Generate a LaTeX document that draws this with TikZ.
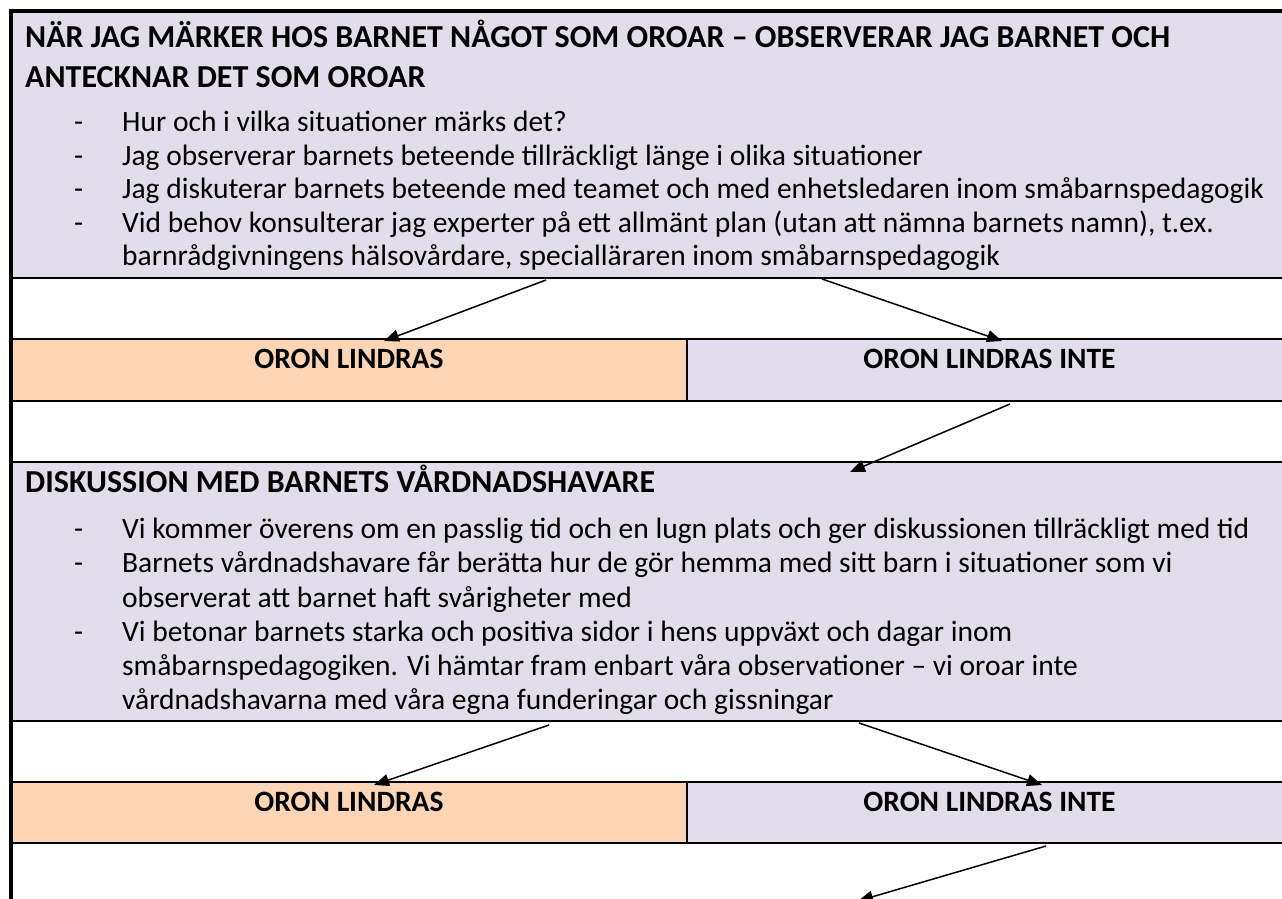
\documentclass[tikz,border=0pt]{standalone}
\usepackage{fontspec}
\setmainfont{Carlito}
\usetikzlibrary{arrows.meta}
\definecolor{lav}{HTML}{E2DDEA}
\definecolor{peach}{HTML}{FBD5B5}
\tikzset{
  cellbox/.style={draw=none, inner sep=0pt, anchor=north west},
  rule/.style={line width=2pt, black},
  thickrule/.style={line width=4pt, black},
  divider/.style={line width=1.5pt, black},
  head/.style={anchor=base west, inner sep=0pt, font=\bfseries\fontsize{32}{40}\selectfont},
  body/.style={anchor=base west, inner sep=0pt, font=\fontsize{29.5}{34}\selectfont},
  oron/.style={anchor=base, inner sep=0pt, font=\bfseries\fontsize{29.5}{34}\selectfont},
  flow/.style={line width=1.5pt, -{Triangle[length=15pt,width=12pt]}}
}
\begin{document}
\begin{tikzpicture}[x=1pt,y=-1pt]
\useasboundingbox (0,0) rectangle (1282,899);
\clip (0,0) rectangle (1282,899);
% cells
\node[cellbox, fill=lav, minimum width=1281pt, minimum height=267pt] (obs) at (11,11) {};
\node[cellbox, fill=peach, minimum width=676pt, minimum height=62pt] (l1) at (11,339) {};
\node[cellbox, fill=lav, minimum width=605pt, minimum height=62pt] (n1) at (687,339) {};
\node[cellbox, fill=lav, minimum width=1281pt, minimum height=259pt] (disk) at (11,462) {};
\node[cellbox, fill=peach, minimum width=676pt, minimum height=61pt] (l2) at (11,782) {};
\node[cellbox, fill=lav, minimum width=605pt, minimum height=61pt] (n2) at (687,782) {};
% table rules
\foreach \yy in {278,339,401,462,721,782,843} \draw[rule] (11,\yy) -- (1292,\yy);
\draw[divider] (687,339) -- (687,401);
\draw[divider] (687,782) -- (687,843);
\draw[thickrule] (9,11) -- (1292,11);
\draw[thickrule] (11,9) -- (11,899);
% box 1 text
\node[head] (h1a) at (25,48) {NÄR JAG MÄRKER HOS BARNET NÅGOT SOM OROAR – OBSERVERAR JAG BARNET OCH};
\node[head] (h1b) at (25,88) {ANTECKNAR DET SOM OROAR};
\node[body] (d11) at (74,131) {-};
\node[body] (t11) at (122,131) {Hur och i vilka situationer märks det?};
\node[body] (d12) at (74,165) {-};
\node[body] (t12) at (122,165) {Jag observerar barnets beteende tillräckligt länge i olika situationer};
\node[body] (d13) at (74,198) {-};
\node[body] (t13) at (122,198) {Jag diskuterar barnets beteende med teamet och med enhetsledaren inom småbarnspedagogik};
\node[body] (d14) at (74,232) {-};
\node[body] (t14) at (122,232) {Vid behov konsulterar jag experter på ett allmänt plan (utan att nämna barnets namn), t.ex.};
\node[body] (t15) at (122,265) {barnrådgivningens hälsovårdare, specialläraren inom småbarnspedagogik};
% row 1
\node[oron] (o1) at (349,368) {ORON LINDRAS};
\node[oron] (o2) at (989.5,368) {ORON LINDRAS INTE};
% box 2 text
\node[head] (h2) at (25,492) {DISKUSSION MED BARNETS VÅRDNADSHAVARE};
\node[body] (d21) at (74,538) {-};
\node[body] (t21) at (122,538) {Vi kommer överens om en passlig tid och en lugn plats och ger diskussionen tillräckligt med tid};
\node[body] (d22) at (74,572) {-};
\node[body] (t22) at (122,572) {Barnets vårdnadshavare får berätta hur de gör hemma med sitt barn i situationer som vi};
\node[body] (t23) at (122,607) {observerat att barnet haft svårigheter med};
\node[body] (d24) at (74,641) {-};
\node[body] (t24) at (122,641) {Vi betonar barnets starka och positiva sidor i hens uppväxt och dagar inom};
\node[body] (t25) at (122,675) {småbarnspedagogiken. Vi hämtar fram enbart våra observationer – vi oroar inte};
\node[body] (t26) at (122,709) {vårdnadshavarna med våra egna funderingar och gissningar};
% row 2
\node[oron] (o3) at (349,811) {ORON LINDRAS};
\node[oron] (o4) at (989.5,811) {ORON LINDRAS INTE};
% arrow ends
\coordinate (a1s) at (546,280);
\coordinate (a1e) at (384,341);
\coordinate (a2s) at (822,279);
\coordinate (a2e) at (1002,341);
\coordinate (a3s) at (1010,404);
\coordinate (a3e) at (850,472);
\coordinate (a4s) at (549,725);
\coordinate (a4e) at (374,785);
\coordinate (a5s) at (859,723);
\coordinate (a5e) at (1042,785);
\coordinate (a6s) at (1046,846);
\coordinate (a6e) at (858,901);
\draw[flow] (a1s) -- (a1e);
\draw[flow] (a2s) -- (a2e);
\draw[flow] (a3s) -- (a3e);
\draw[flow] (a4s) -- (a4e);
\draw[flow] (a5s) -- (a5e);
\draw[flow] (a6s) -- (a6e);
\end{tikzpicture}
\end{document}
